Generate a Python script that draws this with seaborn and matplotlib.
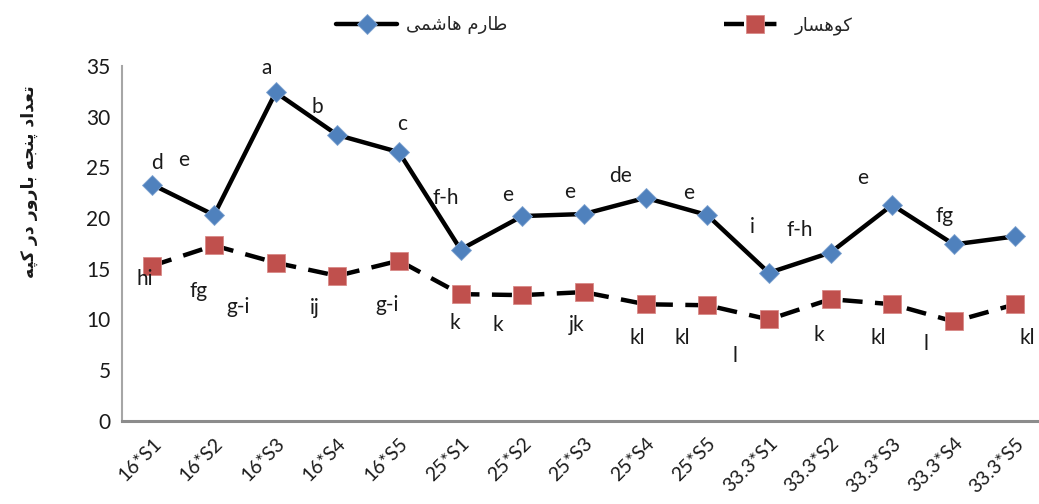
import matplotlib
matplotlib.use("Agg")
import matplotlib.pyplot as plt
import seaborn as sns
import pandas as pd

# ---------------- data ----------------
categories = ["16*S1", "16*S2", "16*S3", "16*S4", "16*S5",
              "25*S1", "25*S2", "25*S3", "25*S4", "25*S5",
              "33.3*S1", "33.3*S2", "33.3*S3", "33.3*S4", "33.3*S5"]
tarom = [23.3, 20.3, 32.4, 28.2, 26.5, 16.9, 20.2, 20.4, 22.0, 20.3,
         14.6, 16.6, 21.3, 17.4, 18.2]
kohsar = [15.3, 17.3, 15.6, 14.3, 15.8, 12.5, 12.4, 12.7, 11.5, 11.4,
          10.0, 12.0, 11.5, 9.8, 11.5]
tarom_letters = ["d", "e", "a", "b", "c", "f-h", "e", "e", "de", "e",
                 "i", "f-h", "e", "fg", ""]
kohsar_letters = ["hi", "fg", "g-i", "ij", "g-i", "k", "k", "jk", "kl", "kl",
                  "l", "k", "kl", "l", "kl"]
name_tarom = "طارم هاشمی"
name_kohsar = "کوهسار"
y_title = "تعداد پنجه بارور در کپه"
y_ticks = [0, 5, 10, 15, 20, 25, 30, 35]

# label offsets (pixels) – style only
tarom_off = [(5, 22), (-30, 55), (-9, 24), (-20, 28), (3, 28), (-15, 52),
             (-15, 21), (-14, 22), (-25, 22), (-19, 22), (-17, 46),
             (-31, 23), (-30, 27), (-9, 28), (0, 0)]
kohsar_off = [(-8, -13), (-15, -46), (-38, -44), (-23, -32), (-12, -44),
              (-6, -29), (-24, -30), (-7, -33), (-8, -34), (-25, -33),
              (-34, -37), (-12, -36), (-14, -34), (-28, -23), (12, -34)]

# ---------------- minimal Arabic/Persian shaping ----------------
FORMS = {
    'ا': (0xFE8D, 0xFE8E, None, None),
    'ب': (0xFE8F, 0xFE90, 0xFE91, 0xFE92),
    'پ': (0xFB56, 0xFB57, 0xFB58, 0xFB59),
    'ت': (0xFE95, 0xFE96, 0xFE97, 0xFE98),
    'ج': (0xFE9D, 0xFE9E, 0xFE9F, 0xFEA0),
    'د': (0xFEA9, 0xFEAA, None, None),
    'ر': (0xFEAD, 0xFEAE, None, None),
    'س': (0xFEB1, 0xFEB2, 0xFEB3, 0xFEB4),
    'ش': (0xFEB5, 0xFEB6, 0xFEB7, 0xFEB8),
    'ط': (0xFEC1, 0xFEC2, 0xFEC3, 0xFEC4),
    'ع': (0xFEC9, 0xFECA, 0xFECB, 0xFECC),
    'م': (0xFEE1, 0xFEE2, 0xFEE3, 0xFEE4),
    'ن': (0xFEE5, 0xFEE6, 0xFEE7, 0xFEE8),
    'ه': (0xFEE9, 0xFEEA, 0xFEEB, 0xFEEC),
    'و': (0xFEED, 0xFEEE, None, None),
    'ک': (0xFB8E, 0xFB8F, 0xFB90, 0xFB91),
    'ی': (0xFBFC, 0xFBFD, 0xFBFE, 0xFBFF),
}


def shape(text):
    out = []
    n = len(text)
    for i, c in enumerate(text):
        if c not in FORMS:
            out.append(c)
            continue
        f = FORMS[c]
        prev = text[i - 1] if i > 0 else None
        nxt = text[i + 1] if i + 1 < n else None
        jp = prev in FORMS and FORMS[prev][2] is not None
        jn = nxt in FORMS and f[2] is not None
        if jp and jn:
            cp = f[3]
        elif jp:
            cp = f[1]
        elif jn:
            cp = f[2]
        else:
            cp = f[0]
        out.append(chr(cp))
    return "".join(reversed(out))


# ---------------- plot ----------------
sns.set_theme(style="white")
plt.rcParams["font.family"] = ["Lato", "DejaVu Sans"]

blue = "#4F81BD"
red = "#C0504D"
txt = "#1A1A1A"

fig = plt.figure(figsize=(10.39, 5.04), dpi=100)
ax = fig.add_axes([0.117, 0.165, 0.890, 0.704])

df = pd.DataFrame({"cat": categories, "t": tarom, "k": kohsar})
sns.lineplot(data=df, x="cat", y="t", ax=ax, sort=False, color="black",
             lw=3.2, marker="D", markersize=10, markerfacecolor=blue,
             markeredgecolor="#7FA3D0", markeredgewidth=0.6,
             label=shape(name_tarom), clip_on=False)
sns.lineplot(data=df, x="cat", y="k", ax=ax, sort=False, color="black",
             lw=3.2, marker="s", markersize=13, markerfacecolor=red,
             markeredgecolor="#D98A88", markeredgewidth=0.6,
             label=shape(name_kohsar), clip_on=False)
ax.lines[1].set_linestyle((0, (4.5, 2.8)))

for i, (lab, off) in enumerate(zip(tarom_letters, tarom_off)):
    if lab:
        ax.annotate(lab, (i, tarom[i]), xytext=off, textcoords="offset pixels",
                    ha="center", va="center", fontsize=15, color=txt)
for i, (lab, off) in enumerate(zip(kohsar_letters, kohsar_off)):
    if lab:
        ax.annotate(lab, (i, kohsar[i]), xytext=off, textcoords="offset pixels",
                    ha="center", va="center", fontsize=15, color=txt)

ax.set_xlim(-0.5, len(categories) - 0.5)
ax.set_ylim(0, 35)
ax.set_yticks(y_ticks)
ax.set_yticklabels([str(v) for v in y_ticks], fontsize=15, color=txt)
ax.set_xticks(range(len(categories)))
ax.set_xticklabels(categories, rotation=45, ha="right",
                   rotation_mode="anchor", fontsize=14, color=txt)
ax.tick_params(axis="both", length=0, pad=8)
ax.tick_params(axis="x", pad=10)
ax.set_xlabel("")
ax.set_ylabel(shape(y_title), fontsize=12.5, fontweight="bold",
              family="DejaVu Sans", color=txt)
ax.yaxis.set_label_coords(-0.09, 0.675)

for s in ["top", "right"]:
    ax.spines[s].set_visible(False)
ax.spines["left"].set_color("#A6A6A6")
ax.spines["left"].set_linewidth(1.5)
ax.spines["bottom"].set_color("#8C8C8C")
ax.spines["bottom"].set_linewidth(2.2)

ax.legend_.remove()
h, l = ax.get_legend_handles_labels()
leg = fig.legend(h, l, loc="upper center", bbox_to_anchor=(0.572, 1.0),
                 ncol=2, frameon=False, columnspacing=12,
                 handlelength=3.4, handletextpad=0.5,
                 prop={"family": "DejaVu Sans", "size": 13})

fig.savefig("out.png", dpi=100)
